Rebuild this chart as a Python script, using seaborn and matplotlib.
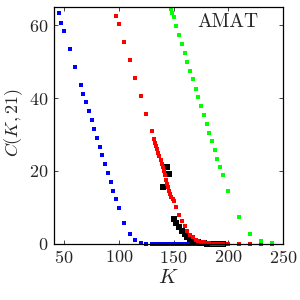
import numpy as np
import pandas as pd
import matplotlib
matplotlib.use("Agg")
import matplotlib.pyplot as plt
import seaborn as sns

# ---- data ----
blue_K = [45, 47.5, 50, 55, 60, 65, 67.5, 70, 72.5, 75, 77.5, 80, 82.5, 85, 87.5,
          90, 92.5, 95, 97.5, 100, 105, 110, 115, 120, 125,
          130, 132.5, 135, 137.5, 140, 142.5, 145, 147.5, 150, 152.5, 155, 157.5,
          160, 162.5, 165, 167.5, 170, 172.5, 175, 177.5, 180, 182.5, 185]
blue_C = [63.2, 60.7, 58.3, 53.4, 48.5, 43.6, 41.2, 38.8, 36.5, 34.0, 31.6, 29.1, 26.7, 24.3, 21.8,
          19.4, 17.0, 14.6, 12.3, 9.9, 5.7, 2.8, 1.2, 0.35, 0.1,
          0.05, 0, 0, 0, 0, 0, 0, 0, 0, 0, 0, 0,
          0, 0, 0, 0, 0, 0, 0, 0, 0, 0, 0]

red_K = [97.5, 100, 105, 110, 115, 120, 125, 130,
         132, 133, 134, 135, 136, 137, 138, 139, 140, 141, 142, 143, 144, 145,
         146, 147, 148, 149, 150,
         152.5, 155, 157.5, 160, 162.5, 165, 167.5, 170, 172.5, 175, 177.5,
         180, 182.5, 185, 187.5, 190, 192.5, 195, 200, 210, 220, 230, 240]
red_C = [62.6, 60.2, 55.3, 50.4, 45.5, 40.6, 35.7, 31.0,
         28.8, 27.8, 26.8, 26.0, 25.0, 24.0, 22.9, 22.0, 21.0, 20.0, 18.9, 17.6, 16.5, 15.5,
         14.6, 13.8, 13.0, 12.4, 11.9,
         10.0, 8.0, 6.4, 4.8, 3.6, 2.5, 1.8, 1.2, 0.8, 0.55, 0.4,
         0.25, 0.2, 0.1, 0.05, 0, 0, 0, 0, 0, 0, 0, 0]

black_K = [140, 144, 146, 150, 152.5, 155, 157.5, 160, 162.5, 165, 167.5, 170,
           172.5, 175, 177.5, 180, 182.5, 185, 187.5, 190, 192.5, 195]
black_C = [15.6, 21.1, 19.3, 6.8, 5.7, 4.6, 3.5, 2.7, 2.0, 1.4, 0.9, 0.6,
           0.4, 0.3, 0.2, 0.1, 0.05, 0.05, 0, 0, 0, 0]

green_K = [147.5, 148.75, 150, 152.5, 155, 157.5, 160, 162.5, 165, 167.5, 170, 172.5,
           175, 177.5, 180, 182.5, 185, 187.5, 190, 192.5, 195, 200, 210, 220, 230, 240]
green_C = [64.5, 63.3, 62.1, 59.7, 57.3, 54.8, 52.4, 50.0, 47.5, 45.1, 42.6, 40.3,
           37.8, 35.4, 33.0, 30.5, 28.1, 25.7, 23.4, 21.1, 18.8, 14.5, 7.4, 2.8, 0.8, 0.2]

x_ticks = [50, 100, 150, 200, 250]
y_ticks = [0, 20, 40, 60]
label_text = "AMAT"

# ---- style ----
sns.set_style("ticks")
plt.rcParams["font.family"] = ["cmr10", "DejaVu Serif"]
plt.rcParams["mathtext.fontset"] = "cm"
plt.rcParams["axes.unicode_minus"] = False
plt.rcParams["axes.formatter.use_mathtext"] = True

fig = plt.figure(figsize=(3, 3), dpi=100)
ax = fig.add_axes([0.181, 0.187, 0.763, 0.79])

series = [
    (blue_K, blue_C, "#0000ff", 7),
    (black_K, black_C, "#000000", 14),
    (red_K, red_C, "#ff0000", 7),
    (green_K, green_C, "#00ff00", 7),
]
for K, C, col, s in series:
    df = pd.DataFrame({"K": K, "C": C})
    sns.scatterplot(data=df, x="K", y="C", ax=ax, color=col, marker="s",
                    s=s, linewidth=0, clip_on=False, legend=False)

ax.set_xlim(41, 250)
ax.set_ylim(0, 65)
ax.set_xticks(x_ticks)
ax.set_yticks(y_ticks)
ax.tick_params(direction="in", top=True, right=True, length=3, width=0.6,
               labelsize=13)
ax.tick_params(axis="x", pad=4)
ax.tick_params(axis="y", pad=4)
for sp in ax.spines.values():
    sp.set_linewidth(0.9)
    sp.set_color("black")

ax.set_xlabel("$K$", fontsize=15)
ax.set_ylabel("$C(K,21)$", fontsize=13)
ax.xaxis.set_label_coords(0.5, -0.105)
ax.yaxis.set_label_coords(-0.13, 0.51)
ax.text(0.89, 0.935, label_text, transform=ax.transAxes, ha="right", va="center",
        fontsize=14)

fig.savefig("out.png", dpi=100)
